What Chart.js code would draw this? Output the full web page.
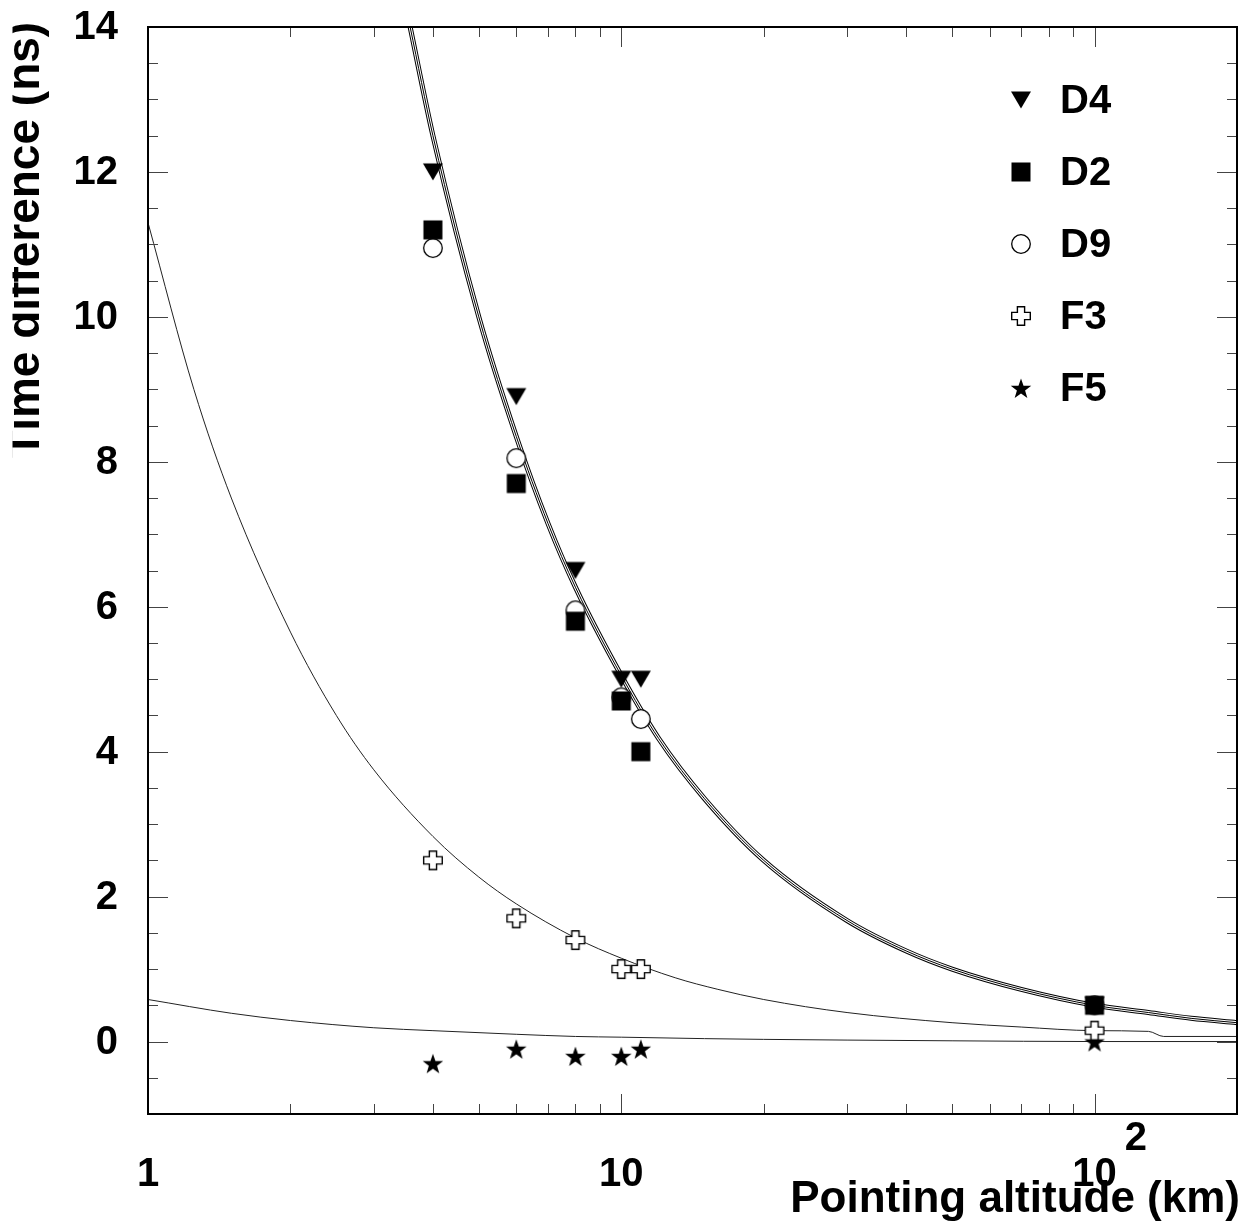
<!DOCTYPE html>
<html lang="en">
<head>
<meta charset="UTF-8">
<title>Time difference vs pointing altitude</title>
<script src="https://cdn.jsdelivr.net/npm/chart.js"></script>
<style>
    body { margin: 0; background: #fff; }
    #grafico { display: block; }
</style>
</head>
<body>
<canvas id="grafico" width="1254" height="1228"></canvas>
<script>
    // measured points (altitude in km, time difference in ns)
    const altitudes = [4, 6, 8, 10, 11, 100];
    const d4 = [12.0, 8.9, 6.5, 5.0, 5.0, 0.5];
    const d2 = [11.2, 7.7, 5.8, 4.7, 4.0, 0.5];
    const d9 = [10.95, 8.05, 5.95, 4.75, 4.45, 0.5];
    const f3 = [2.5, 1.7, 1.4, 1.0, 1.0, 0.15];
    const f5 = [-0.3, -0.1, -0.2, -0.2, -0.1, 0.0];

    // fitted curves
    const curveDX = [3.58, 4, 5, 6, 7, 8, 10, 12, 15, 20, 30, 40, 50, 70, 100, 130, 160, 200];
    const curveD = [14, 12.5, 10, 8.35, 7.15, 6.27, 5.05, 4.18, 3.35, 2.5, 1.67, 1.25, 1.0, 0.72, 0.5, 0.4, 0.32, 0.26];
    const curveF3X = [1, 1.25, 1.5, 2, 2.5, 3, 4, 5, 6, 8, 10, 13, 16, 20, 30, 50, 70, 100, 130, 140, 200];
    const curveF3 = [11.3, 9.0, 7.5, 5.65, 4.5, 3.75, 2.83, 2.27, 1.9, 1.43, 1.15, 0.88, 0.72, 0.58, 0.4, 0.26, 0.2, 0.15, 0.14, 0.07, 0.07];
    const curveF5X = [1, 1.5, 2, 3, 4, 6, 8, 10, 15, 20, 30, 50, 100, 200];
    const curveF5 = [0.58, 0.39, 0.29, 0.19, 0.15, 0.1, 0.07, 0.06, 0.04, 0.03, 0.02, 0.01, 0.0, 0.0];

    // axis labels
    const yTicks = [0, 2, 4, 6, 8, 10, 12, 14];
    const xTicks = [1, 10, 100];
    const xTickText = ['1', '10', '10'];
    const xTickExp = ['', '', '2'];
    const legendNames = ['D4', 'D2', 'D9', 'F3', 'F5'];

    const fonte = 'bold 40px "Liberation Sans", Arial, sans-serif';
    const fonteTitulo = 'bold 44px "Liberation Sans", Arial, sans-serif';
    const fonteTituloY = 'bold 46px "Liberation Sans", Arial, sans-serif';

    function marcador(tipo) {
        var c = document.createElement('canvas');
        c.width = 24; c.height = 24;
        var g = c.getContext('2d');
        var m = 12;
        g.fillStyle = '#000';
        g.strokeStyle = '#000';
        if (tipo === 'tri') {
            g.beginPath();
            g.moveTo(m - 10, m - 8.5);
            g.lineTo(m + 10, m - 8.5);
            g.lineTo(m, m + 8.5);
            g.closePath();
            g.fill();
        } else if (tipo === 'quad') {
            g.fillRect(m - 9.5, m - 9.5, 19, 19);
        } else if (tipo === 'circ') {
            g.beginPath();
            g.arc(m, m, 9.3, 0, Math.PI * 2);
            g.fillStyle = '#fff';
            g.fill();
            g.lineWidth = 1.3;
            g.stroke();
        } else if (tipo === 'cruz') {
            var a = 3.6, r = 9.3;
            g.beginPath();
            g.moveTo(m - a, m - r); g.lineTo(m + a, m - r); g.lineTo(m + a, m - a);
            g.lineTo(m + r, m - a); g.lineTo(m + r, m + a); g.lineTo(m + a, m + a);
            g.lineTo(m + a, m + r); g.lineTo(m - a, m + r); g.lineTo(m - a, m + a);
            g.lineTo(m - r, m + a); g.lineTo(m - r, m - a); g.lineTo(m - a, m - a);
            g.closePath();
            g.fillStyle = '#fff';
            g.fill();
            g.lineWidth = 1.4;
            g.stroke();
        } else if (tipo === 'estrela') {
            g.beginPath();
            for (var i = 0; i < 10; i++) {
                var rr = i % 2 === 0 ? 10.8 : 4.3;
                var ang = -Math.PI / 2 + i * Math.PI / 5;
                var px = m + rr * Math.cos(ang), py = m + 1.2 + rr * Math.sin(ang);
                if (i === 0) g.moveTo(px, py); else g.lineTo(px, py);
            }
            g.closePath();
            g.fill();
        }
        return c;
    }

    const estilos = [marcador('tri'), marcador('quad'), marcador('circ'), marcador('cruz'), marcador('estrela')];

    function pontos(xs, ys) {
        return xs.map(function (x, i) { return { x: x, y: ys[i] }; });
    }

    function serie(nome, ys, estilo, ordem) {
        return {
            label: nome, data: pontos(altitudes, ys), showLine: false,
            pointStyle: estilo, pointRadius: 10, order: ordem
        };
    }

    function curva(xs, ys, cor, largura, ordem) {
        return {
            label: 'fit', data: pontos(xs, ys), showLine: true, pointRadius: 0,
            borderColor: cor, borderWidth: largura, cubicInterpolationMode: 'monotone',
            order: ordem
        };
    }

    const moldura = {
        id: 'moldura',
        afterDraw: function (chart) {
            var ctx = chart.ctx;
            var area = chart.chartArea;
            var sx = chart.scales.x, sy = chart.scales.y;
            ctx.save();

            // ticks, pointing inwards, on all four sides
            ctx.strokeStyle = '#444';
            ctx.lineWidth = 1;
            ctx.beginPath();
            for (var v = -1; v <= 14.001; v += 0.5) {
                var py = Math.round(sy.getPixelForValue(v)) + 0.5;
                var len = (Math.abs(v % 2) < 0.01) ? 20 : 10;
                ctx.moveTo(area.left, py); ctx.lineTo(area.left + len, py);
                ctx.moveTo(area.right, py); ctx.lineTo(area.right - len, py);
            }
            for (var dec = 1; dec <= 100; dec *= 10) {
                for (var k = 1; k <= 9; k++) {
                    var xv = dec * k;
                    if (xv > 200) break;
                    var px = Math.round(sx.getPixelForValue(xv)) + 0.5;
                    var l = k === 1 ? 20 : 10;
                    ctx.moveTo(px, area.bottom); ctx.lineTo(px, area.bottom - l);
                    ctx.moveTo(px, area.top); ctx.lineTo(px, area.top + l);
                }
            }
            ctx.stroke();

            // frame
            ctx.strokeStyle = '#000';
            ctx.lineWidth = 2;
            ctx.strokeRect(area.left, area.top, area.right - area.left, area.bottom - area.top);

            // tick labels
            ctx.fillStyle = '#000';
            ctx.font = fonte;
            ctx.textAlign = 'right';
            ctx.textBaseline = 'middle';
            yTicks.forEach(function (t) {
                ctx.fillText(String(t), 118, sy.getPixelForValue(t) + 1);
            });
            ctx.textBaseline = 'alphabetic';
            xTicks.forEach(function (t, i) {
                var px = sx.getPixelForValue(t);
                ctx.textAlign = 'center';
                ctx.fillText(xTickText[i], px, 1186);
                if (xTickExp[i]) {
                    var w = ctx.measureText(xTickText[i]).width;
                    ctx.textAlign = 'left';
                    ctx.fillText(xTickExp[i], px + w / 2 + 8, 1150);
                }
            });

            // axis titles
            ctx.font = fonteTitulo;
            ctx.textAlign = 'right';
            ctx.fillText('Pointing altitude (km)', 1240, 1212);

            // the y title is cut at the left edge in the original
            ctx.save();
            ctx.beginPath();
            ctx.rect(12.5, 0, 200, chart.height);
            ctx.clip();
            ctx.font = fonteTituloY;
            ctx.translate(39, 240);
            ctx.rotate(-Math.PI / 2);
            ctx.textAlign = 'center';
            ctx.fillText('Time difference (ns)', 0, 0);
            ctx.restore();

            // legend
            ctx.font = fonte;
            ctx.textAlign = 'left';
            ctx.textBaseline = 'middle';
            legendNames.forEach(function (nome, i) {
                var y = 100 + i * 72;
                ctx.drawImage(estilos[i], 1021 - 12, y - 12);
                ctx.fillText(nome, 1060, y + 2);
            });
            ctx.restore();
        }
    };

    var grafico = document.getElementById('grafico');
    var chart = new Chart(grafico, {
        type: 'scatter',
        data: {
            datasets: [
                serie('D4', d4, estilos[0], 2),
                serie('D2', d2, estilos[1], 3),
                serie('D9', d9, estilos[2], 4),
                serie('F3', f3, estilos[3], 5),
                serie('F5', f5, estilos[4], 5),
                curva(curveDX, curveD, '#000', 5, 12),
                curva(curveDX, curveD, '#fff', 3, 11),
                curva(curveDX, curveD, '#000', 1, 10),
                curva(curveF3X, curveF3, '#222', 1, 10),
                curva(curveF5X, curveF5, '#222', 1, 10)
            ]
        },
        options: {
            responsive: false,
            animation: false,
            layout: { padding: { left: 148, top: 27, right: 17, bottom: 114 } },
            plugins: { legend: { display: false }, tooltip: { enabled: false } },
            scales: {
                x: { type: 'logarithmic', min: 1, max: 200, display: false },
                y: { type: 'linear', min: -1, max: 14, display: false }
            }
        },
        plugins: [moldura]
    });
</script>
</body>
</html>
